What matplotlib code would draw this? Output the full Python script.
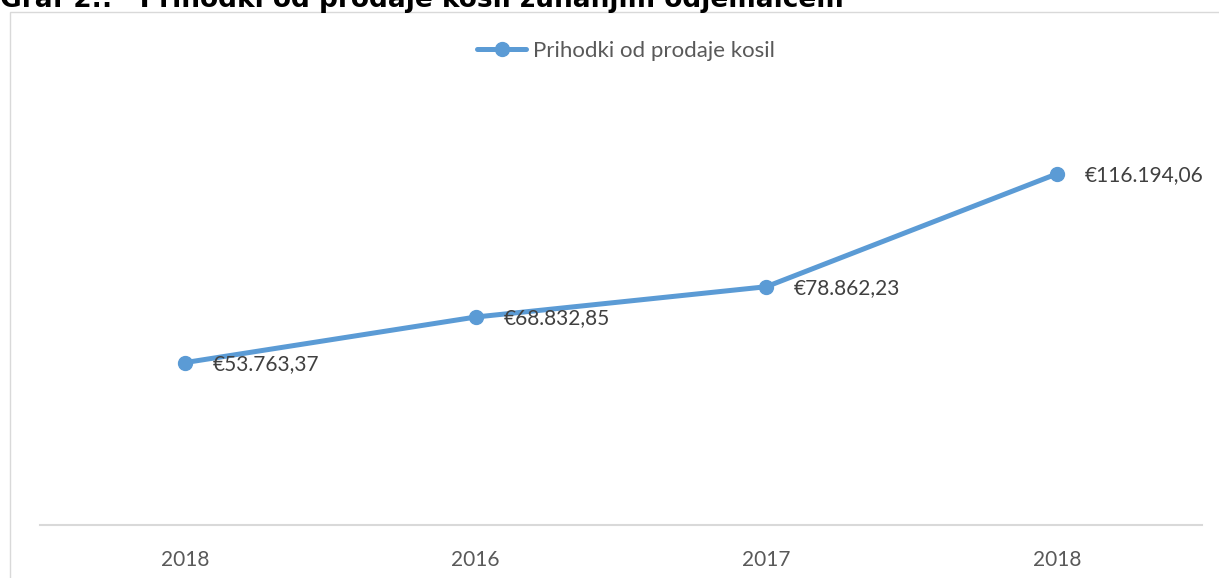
import matplotlib
matplotlib.use("Agg")
import matplotlib.pyplot as plt
from matplotlib.patches import Rectangle

categories = ["2018", "2016", "2017", "2018"]
values = [53763.37, 68832.85, 78862.23, 116194.06]
labels = ["€53.763,37", "€68.832,85", "€78.862,23", "€116.194,06"]
series_name = "Prihodki od prodaje kosil"
title = "Graf 2.:   Prihodki od prodaje kosil zunanjim odjemalcem"

W, H = 1219, 578
fig = plt.figure(figsize=(W / 100, H / 100), dpi=100)
fig.patch.set_facecolor("white")

# chart frame
fig.patches.append(Rectangle((10 / W, -0.1), 1.2, (H - 12) / H + 0.1,
                             transform=fig.transFigure, fill=False,
                             edgecolor="#D9D9D9", linewidth=1.0))

ax_left, ax_right = 40 / W, 1202 / W
ax_bottom, ax_top = (H - 525) / H, (H - 102) / H
ax = fig.add_axes([ax_left, ax_bottom, ax_right - ax_left, ax_top - ax_bottom])
ax.set_facecolor("none")

x = list(range(len(values)))
color = "#5B9BD5"
ax.plot(x, values, color=color, linewidth=3.6, marker="o", markersize=10,
        solid_capstyle="round", label=series_name, zorder=3)

for xi, v, lab in zip(x, values, labels):
    ax.annotate(lab, (xi, v), xytext=(20, -1), textcoords="offset points",
                ha="left", va="center", fontsize=15, color="#404040",
                family="Lato")

ax.set_xlim(-0.5, len(values) - 0.5)
ax.set_ylim(0, 140000)
ax.set_xticks(x)
ax.set_xticklabels(categories, fontsize=15, color="#595959", family="Lato")
ax.tick_params(axis="x", length=0, pad=18)
ax.set_yticks([])
for s in ["top", "right", "left"]:
    ax.spines[s].set_visible(False)
ax.spines["bottom"].set_color("#D9D9D9")
ax.spines["bottom"].set_linewidth(1.5)

leg = fig.legend(loc="center", bbox_to_anchor=(626 / W, (H - 51) / H),
                 frameon=False, prop={"family": "Lato", "size": 16},
                 handlelength=2.2, handletextpad=0.3, borderpad=0)
for t in leg.get_texts():
    t.set_color("#595959")

fig.text(0 / W, (H - 7) / H, title, fontsize=19, fontweight="bold",
         color="black", ha="left", va="baseline", family="DejaVu Sans")

fig.savefig("out.png", dpi=100)
